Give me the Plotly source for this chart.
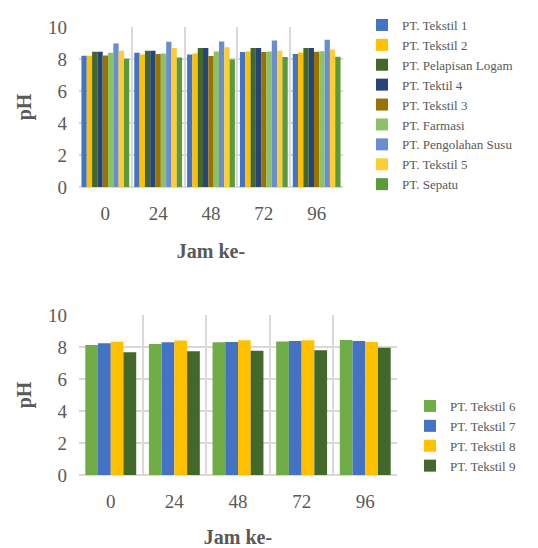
import plotly.graph_objects as go

hours = ["0", "24", "48", "72", "96"]

top_names = ["PT. Tekstil 1", "PT. Tekstil 2", "PT. Pelapisan Logam", "PT. Tektil 4",
             "PT. Tekstil 3", "PT. Farmasi", "PT. Pengolahan Susu", "PT. Tekstil 5", "PT. Sepatu"]
tekstil1 = [8.20, 8.39, 8.28, 8.43, 8.31]
tekstil2 = [8.20, 8.28, 8.35, 8.47, 8.41]
pelapisan_logam = [8.45, 8.51, 8.68, 8.68, 8.68]
tektil4 = [8.45, 8.51, 8.68, 8.68, 8.68]
tekstil3 = [8.22, 8.31, 8.18, 8.43, 8.45]
farmasi = [8.39, 8.35, 8.47, 8.47, 8.49]
pengolahan_susu = [8.97, 9.08, 9.10, 9.16, 9.21]
tekstil5 = [8.51, 8.68, 8.74, 8.51, 8.60]
sepatu = [8.01, 8.10, 7.97, 8.12, 8.14]
top_values = [tekstil1, tekstil2, pelapisan_logam, tektil4, tekstil3, farmasi,
              pengolahan_susu, tekstil5, sepatu]
top_colors = ["#4472C4", "#FFC000", "#43682B", "#264478", "#997300",
              "#8CC168", "#698ED0", "#FFCD33", "#5B9B3A"]

bot_names = ["PT. Tekstil 6", "PT. Tekstil 7", "PT. Tekstil 8", "PT. Tekstil 9"]
tekstil6 = [8.13, 8.19, 8.29, 8.35, 8.44]
tekstil7 = [8.23, 8.29, 8.31, 8.38, 8.38]
tekstil8 = [8.33, 8.40, 8.42, 8.42, 8.31]
tekstil9 = [7.67, 7.73, 7.77, 7.79, 7.96]
bot_values = [tekstil6, tekstil7, tekstil8, tekstil9]
bot_colors = ["#70AD47", "#4472C4", "#FFC000", "#43682B"]

FONT = "Liberation Serif"
GRAY = "#595959"
GRID = "#D9D9D9"

fig = go.Figure()
for name, vals, col in zip(top_names, top_values, top_colors):
    fig.add_trace(go.Bar(x=hours, y=vals, name=name, marker_color=col,
                         marker_line_width=0, xaxis="x", yaxis="y", legend="legend"))

n = len(bot_names)
group_w = 0.8
for i, (name, vals, col) in enumerate(zip(bot_names, bot_values, bot_colors)):
    fig.add_trace(go.Bar(x=hours, y=vals, name=name, marker_color=col,
                         marker_line_width=0, xaxis="x2", yaxis="y2", legend="legend2",
                         width=group_w / n, offset=-group_w / 2 + i * group_w / n))

W, H = 538, 548
def px_x(p):
    return p / W
def px_y(p):
    return 1 - p / H

xcommon = dict(type="category", tickson="boundaries", showgrid=True, gridcolor=GRID,
               gridwidth=1.5, ticks="", showline=False, zeroline=False,
               range=[-0.499, 4.499],
               tickfont=dict(family=FONT, size=19, color=GRAY),
               ticklabelstandoff=13)
ycommon = dict(range=[0, 10], dtick=2, showgrid=True, gridcolor=GRID, gridwidth=1.5,
               zeroline=True, zerolinecolor=GRID, zerolinewidth=1.5, showline=False,
               ticks="", tickfont=dict(family=FONT, size=19, color=GRAY),
               ticklabelstandoff=11)
title_font = dict(family=FONT, size=20, color=GRAY, weight="bold")

fig.update_layout(
    width=W, height=H,
    margin=dict(l=0, r=0, t=0, b=0, autoexpand=False),
    paper_bgcolor="white", plot_bgcolor="white",
    barmode="group", bargap=0.095, bargroupgap=0,
    xaxis=dict(domain=[px_x(79), px_x(343)], anchor="y",
               title=dict(text="Jam ke-", font=title_font, standoff=20), **xcommon),
    yaxis=dict(domain=[px_y(187), px_y(27)], anchor="x",
               title=dict(text="pH", font=title_font, standoff=11), **ycommon),
    xaxis2=dict(domain=[px_x(79), px_x(397)], anchor="y2",
                title=dict(text="Jam ke-", font=title_font, standoff=20), **xcommon),
    yaxis2=dict(domain=[px_y(475), px_y(315)], anchor="x2",
                title=dict(text="pH", font=title_font, standoff=11), **ycommon),
    legend=dict(x=px_x(362), y=px_y(10), xanchor="left", yanchor="top",
                font=dict(family=FONT, size=13, color=GRAY), tracegroupgap=0,
                bgcolor="rgba(0,0,0,0)"),
    legend2=dict(x=px_x(410), y=px_y(391), xanchor="left", yanchor="top",
                 font=dict(family=FONT, size=13, color=GRAY), tracegroupgap=0,
                 bgcolor="rgba(0,0,0,0)"),
    showlegend=True,
)

fig.write_html("out.html", config={"displayModeBar": False},
               post_script="document.body.style.margin='0';")
